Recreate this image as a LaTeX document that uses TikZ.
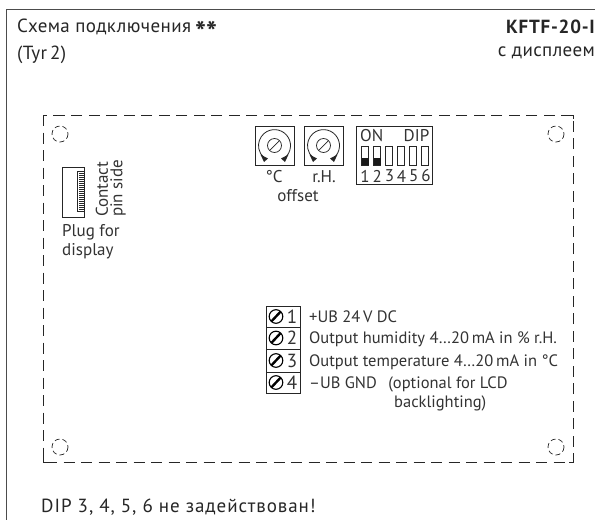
\documentclass[tikz,border=0pt]{standalone}
\usepackage{fontspec}
\setmainfont{PT Sans}
\tikzset{
  lbl/.style={inner sep=0pt,anchor=west,text=black!80,font=\fontsize{16.5}{16.5}\selectfont},
  hdr/.style={inner sep=0pt,anchor=west,text=black!85,font=\fontsize{19}{19}\selectfont\addfontfeature{LetterSpace=2}},
  sml/.style={inner sep=0pt,text=black!80,font=\fontsize{17}{17}\selectfont},
  box/.style={draw=black!85,line width=0.9pt},
  hole/.style={draw=black!85,line width=0.7pt,dash pattern=on 5pt off 3pt},
}
\begin{document}
\begin{tikzpicture}[x=1pt,y=-1pt]
\useasboundingbox (0,0) rectangle (595,520);
\fill[white] (0,0) rectangle (595,520);
% outer frame
\draw[black!70,line width=1pt] (595,9) -- (6.5,9) -- (6.5,520);
% header
\node[hdr] (t1) at (17,27) {Схема подключения};
\node[hdr,font=\fontsize{29}{29}\selectfont\bfseries] (t1s) at (195,31.5) {**};
\node[hdr] (t2) at (17,55) {(Tyr\,2)};
\node[hdr,anchor=east,font=\fontsize{19}{19}\selectfont\bfseries\addfontfeature{LetterSpace=4}] (t3) at (595,27) {KFTF-20-I};
\node[hdr,anchor=east] (t4) at (595,53) {с дисплеем};
% dashed board
\draw[black!85,line width=0.9pt,dash pattern=on 11pt off 6.5pt] (43,115) rectangle (573,462);
\draw[black!85,line width=0.9pt] (43,119) -- (43,115) -- (47,115);
\draw[black!85,line width=0.9pt] (569,115) -- (573,115) -- (573,119);
\draw[black!85,line width=0.9pt] (43,458) -- (43,462) -- (47,462);
\draw[black!85,line width=0.9pt] (569,462) -- (573,462) -- (573,458);
% mounting holes
\draw[hole] (60,134) circle (8);
\draw[hole] (556,134) circle (8);
\draw[hole] (60,447) circle (8);
\draw[hole] (556,447) circle (8);
% plug
\draw[box] (62,167) rectangle (84,217);
\draw[box] (84,171) -- (77,171) -- (77,211) -- (84,211);
\foreach \i in {0,...,18} \draw[black!85,line width=0.4pt] (79,{173+\i*2}) -- (84,{173+\i*2});
\node[sml,rotate=90,anchor=west] (c1) at (102,217) {Contact};
\node[sml,rotate=90,anchor=west] (c2) at (118,217) {pin side};
\node[sml,anchor=west] (p1) at (62,232) {Plug for};
\node[sml,anchor=west] (p2) at (62,251) {display};
% potentiometers
\foreach \x in {255,304}{
  \draw[box] (\x,126) rectangle +(39,39);
  \draw[black!85,line width=0.8pt] ({\x+19.5+10.5},{145.5+12.2}) arc (49:-229:16);
  \draw[black!85,line width=0.7pt] ({\x+19.5},145.5) circle (7);
  \draw[black!85,line width=0.7pt] ({\x+15},150) -- ({\x+24},141);
  \fill[black!85] ({\x+5.5},154.5) -- ({\x+13},158.5) -- ({\x+9},162) -- cycle;
  \fill[black!85] ({\x+33.5},154.5) -- ({\x+26},158.5) -- ({\x+30},162) -- cycle;
}
\node[sml] (dc) at (274,177) {°C};
\node[sml] (rh) at (324,177) {r.H.};
\node[sml] (off) at (298,196) {offset};
% DIP
\draw[box] (356,126) rectangle (432,184);
\node[sml,anchor=west] (on) at (360,136) {ON};
\node[sml,anchor=east] (dip) at (429.5,136) {DIP};
\foreach \n in {1,...,6}{
  \draw[black!85,line width=0.7pt] ({361.5+(\n-1)*12},146) rectangle +(7,19);
  \node[sml] (d\n) at ({365+(\n-1)*12.2},176) {\n};
}
\fill[black!90] (361.5,158) rectangle +(7,7);
\fill[black!90] (373.5,158) rectangle +(7,7);
% terminals
\draw[box] (266,306) rectangle (300,393);
\foreach \y in {327,349,372} \draw[box] (266,\y) -- (300,\y);
\foreach \n/\y in {1/316.5,2/338,3/360.5,4/382.5}{
  \draw[black,line width=1.1pt] (276,\y) circle (6.8);
  \draw[black,line width=2.4pt] (271.5,{\y+4.8}) -- (280.5,{\y-4.8});
  \node[sml,font=\fontsize{19}{19}\selectfont] (n\n) at (292,\y) {\n};
}
\node[lbl] (l1) at (309,317) {+UB 24\,V DC};
\node[lbl] (l2) at (309,339) {Output humidity 4…20\,mA in \% r.H.};
\node[lbl] (l3) at (309,362) {Output temperature 4…20\,mA in °C};
\node[lbl] (l4) at (309,384) {–UB GND\hspace{0.7em}(optional for LCD};
\node[lbl] (l5) at (394,403) {backlighting)};
% footer
\node[hdr,font=\fontsize{19}{19}\selectfont\addfontfeature{LetterSpace=5}] (f) at (41,507) {DIP 3, 4, 5, 6 не задействован!};
\end{tikzpicture}
\end{document}
